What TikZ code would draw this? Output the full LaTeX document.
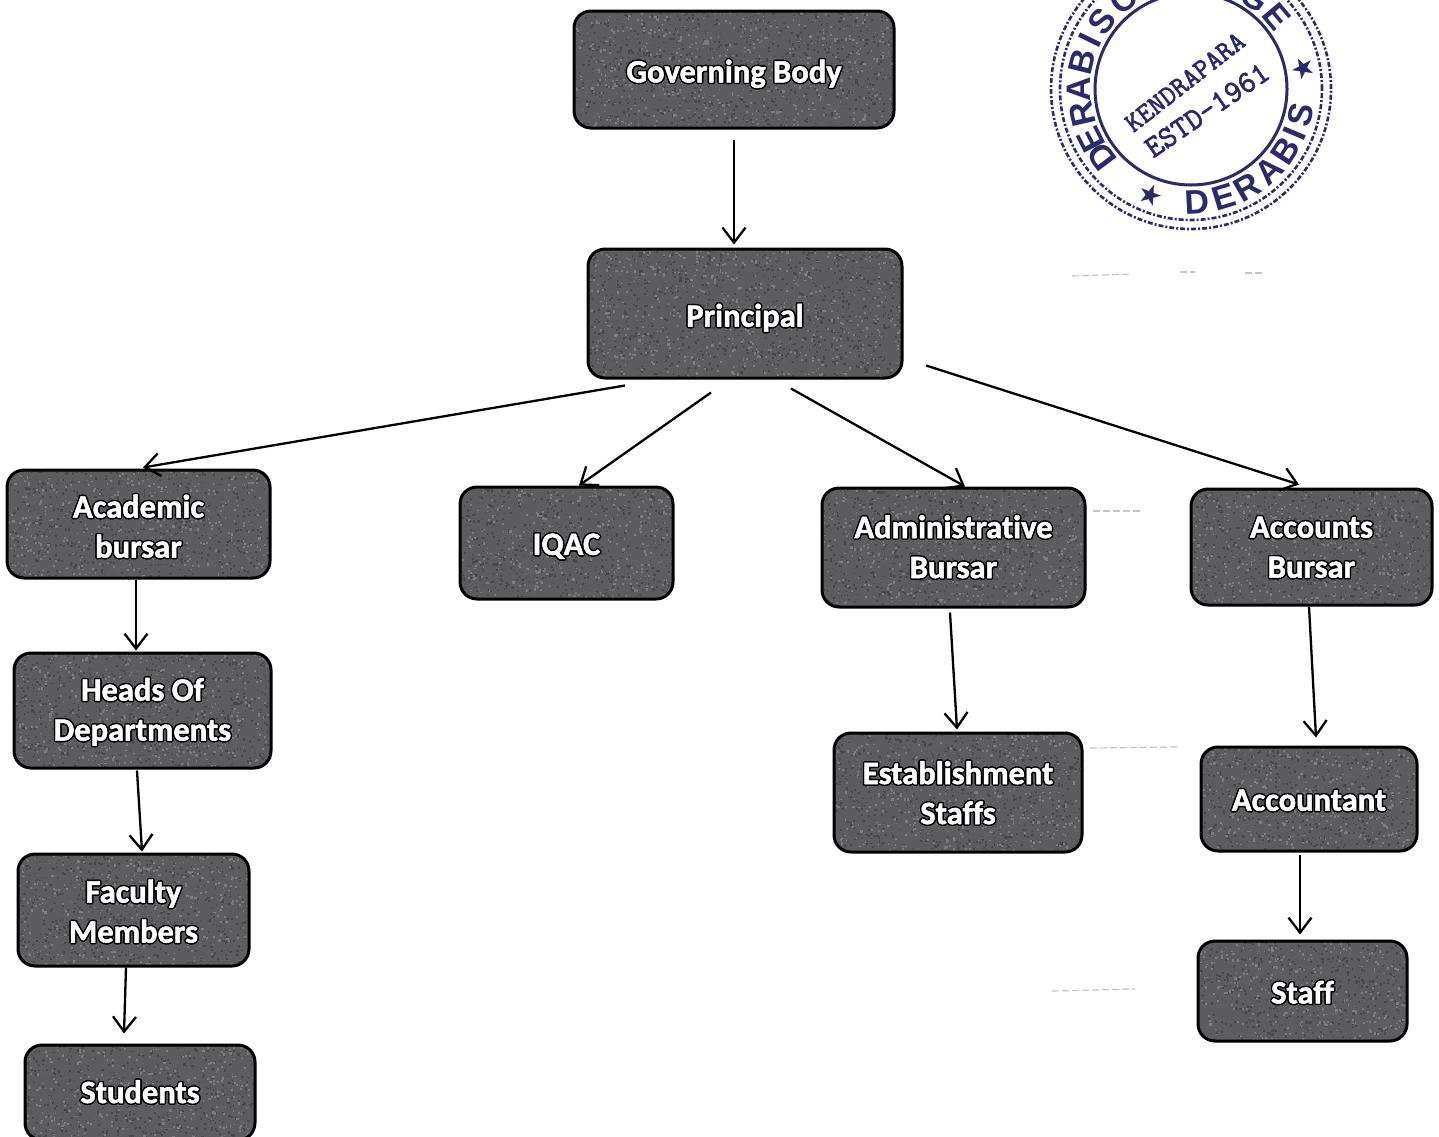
\documentclass[tikz,border=0pt]{standalone}
\usepackage{fontspec}
\usepackage[copies]{contour}
\setmainfont{Carlito}[Ligatures=NoCommon,BoldFeatures={FakeBold=1.6}]
\newfontfamily\stampfont{Liberation Sans}
\newfontfamily\stampstar{DejaVu Sans}
\newfontfamily\stampmono{Latin Modern Mono}[FakeBold=2.2]
\usetikzlibrary{arrows.meta}
\contournumber{8}
\contourlength{1.5pt}
\definecolor{boxgrey}{HTML}{5D5D60}
\definecolor{speckdark}{HTML}{484A4C}
\definecolor{specklight}{HTML}{7A7A7C}
\definecolor{stampink}{HTML}{2B2A6B}
\definecolor{scanmark}{HTML}{C4C4C4}
\newcommand{\lbl}[2][0]{\raisebox{-#1pt}[\height][\depth]{\contour{black}{#2}}}
\makeatletter
\newcount\sprnd \newcount\spi
\global\sprnd=12345
\newdimen\spxa \newdimen\spya \newdimen\spxb \newdimen\spyb \newdimen\spsz
\newcommand{\nextrnd}{%
  \global\sprnd=\numexpr171*\sprnd\relax
  \global\sprnd=\numexpr\sprnd-30269*(\sprnd/30269)\relax
  \ifnum\sprnd<0 \global\advance\sprnd 30269 \fi}
\newcommand{\speckrun}[4]{%
  \pgfscope
  \pgfsetcornersarced{\pgfpointorigin}%
  \pgfsetfillcolor{#4}%
  \pgfpointanchor{path picture bounding box}{south west}%
  \spxa=\pgf@x \spya=\pgf@y
  \spi=0
  \loop\ifnum\spi<#3 \advance\spi 1
    \nextrnd\spxb=\dimexpr\spxa+#1pt*\sprnd/30269\relax
    \nextrnd\spyb=\dimexpr\spya+#2pt*\sprnd/30269\relax
    \nextrnd\spsz=\dimexpr1.2pt+1.2pt*\sprnd/30269\relax
    \pgfpathrectangle{\pgfqpoint{\spxb}{\spyb}}{\pgfqpoint{\spsz}{\spsz}}%
    \pgfusepath{fill}%
  \repeat
  \endpgfscope}
\newcommand{\specks}[2]{%
  \speckrun{#1}{#2}{\numexpr#1*#2/42\relax}{speckdark}%
  \speckrun{#1}{#2}{\numexpr#1*#2/62\relax}{specklight}}
\makeatother
\tikzset{
  orgbox/.style 2 args={draw=black,line width=3pt,fill=boxgrey,rounded corners=17pt,
    minimum width=#1 pt,minimum height=#2 pt,inner sep=0pt,text=white,align=center,
    font=\fontsize{32.5}{40}\selectfont\bfseries,
    path picture={\specks{#1}{#2}}},
  arr/.style={draw=black,line width=2.3pt,-{Straight Barb[length=15pt,width=23pt,line width=2.3pt]}},
  ringsolid/.style={draw=stampink,line width=3pt},
  ringdash/.style={draw=stampink,line width=2.6pt,dash pattern=on 5pt off 2pt on 2pt off 2pt},
  stampup/.style={text=stampink,font=\stampfont\bfseries\fontsize{34}{34}\selectfont,inner sep=0pt},
  stampsign/.style={text=stampink,font=\stampstar\fontsize{28}{28}\selectfont,inner sep=0pt},
  stampmid/.style={text=stampink,font=\stampmono\fontsize{#1}{#1}\selectfont,inner sep=0pt},
  scan/.style={draw=scanmark,line width=1.2pt,dash pattern=on 7pt off 3pt}
}
\begin{document}
\begin{tikzpicture}[x=1pt,y=-1pt]
\useasboundingbox (0,0) rectangle (1439,1136);
\clip (0,0) rectangle (1439,1136);
\fill[white] (0,0) rectangle (1439,1136);

% faint scan marks
\draw[scan] (1072,276) -- (1132,274);
\draw[scan] (1180,272) -- (1195,272);
\draw[scan] (1245,273) -- (1262,273);
\draw[scan] (1093,511) -- (1140,511);
\draw[scan] (1090,748) -- (1178,747);
\draw[scan] (1052,991) -- (1135,989);

% stamp
\begin{scope}[shift={(1191,89)},y=1pt]
  \draw[ringdash] (0,0) circle[radius=140];
  \draw[ringdash] (0,0) circle[radius=131];
  \draw[ringsolid] (0,0) circle[radius=96];
  \foreach \a/\c in {217/D,207/E,193/R,180/A,166/B,154/I,143/S,127/C,55/G,40/E}{
    \pgfmathsetmacro{\r}{\a-90}
    \node[stampup,rotate=\r] at (\a:112) {\c};
  }
  \foreach \a/\c in {273/D,287/E,300/R,314/A,327/B,337/I,347/S}{
    \pgfmathsetmacro{\r}{\a+90}
    \node[stampup,rotate=\r] at (\a:113) {\c};
  }
  \foreach \a in {249,370}{
    \pgfmathsetmacro{\r}{\a+90}
    \node[stampsign,rotate=\r] at (\a:113) {★};
  }
\end{scope}
\node[stampmid=28,rotate=38] (stampa) at (1185,82) {KENDRAPARA};
\node[stampmid=31,rotate=34.5] (stampb) at (1207,110) {ESTD-1961};

% boxes
\node[orgbox={320}{117}] (gov) at (734,69.5) {\lbl[5]{Governing Body}};
\node[orgbox={314}{129}] (prin) at (745,313.5) {\lbl[5]{Principal}};
\node[orgbox={263}{108}] (acad) at (138.5,524) {\lbl[3]{Academic}\\\lbl[3]{bursar}};
\node[orgbox={213}{112}] (iqac) at (566.5,543) {\lbl[4]{IQAC}};
\node[orgbox={263}{119}] (admin) at (953.5,547.5) {\lbl{Administrative}\\\lbl{Bursar}};
\node[orgbox={241}{116}] (accts) at (1311.5,547) {\lbl[1]{Accounts}\\\lbl[1]{Bursar}};
\node[orgbox={257}{115}] (heads) at (142.5,710.5) {\lbl[2]{Heads Of}\\\lbl[2]{Departments}};
\node[orgbox={248}{119}] (estab) at (958,792.5) {\lbl[1]{Establishment}\\\lbl[1]{Staffs}};
\node[orgbox={216}{104}] (acct) at (1309,799) {\lbl[2]{Accountant}};
\node[orgbox={231}{112}] (fac) at (133.5,910) {\lbl[2]{Faculty}\\\lbl[2]{Members}};
\node[orgbox={209}{100}] (staff) at (1302.5,991) {\lbl[2]{Staff}};
\node[orgbox={230}{95}] (stud) at (140,1092.5) {\lbl{Students}};

% connectors
\draw[arr] ([shift={(0,10)}]gov.south) -- ([shift={(-11,-3)}]prin.north);
\draw[arr] ([shift={(-120,6)}]prin.south) -- ([shift={(4.5,-1)}]acad.north);
\draw[arr] ([shift={(-34,13)}]prin.south) -- ([shift={(12.5,0)}]iqac.north);
\draw[arr] ([shift={(46,9)}]prin.south) -- ([shift={(11.5,0)}]admin.north);
\draw[arr] ([shift={(181,-14)}]prin.south) -- ([shift={(-12.5,-3)}]accts.north);
\draw[arr] ([shift={(-2.5,0)}]acad.south) -- ([shift={(-6.5,-1)}]heads.north);
\draw[arr] ([shift={(-5.5,1)}]heads.south) -- ([shift={(8.5,-1)}]fac.north);
\draw[arr] ([shift={(-7.5,0)}]fac.south) -- ([shift={(-16,-10)}]stud.north);
\draw[arr] ([shift={(-3.5,4)}]admin.south) -- ([shift={(-1,-2)}]estab.north);
\draw[arr] ([shift={(-2.5,0)}]accts.south) -- ([shift={(7,-8)}]acct.north);
\draw[arr] ([shift={(-9,2)}]acct.south) -- ([shift={(-2.5,-5)}]staff.north);
\end{tikzpicture}
\end{document}
